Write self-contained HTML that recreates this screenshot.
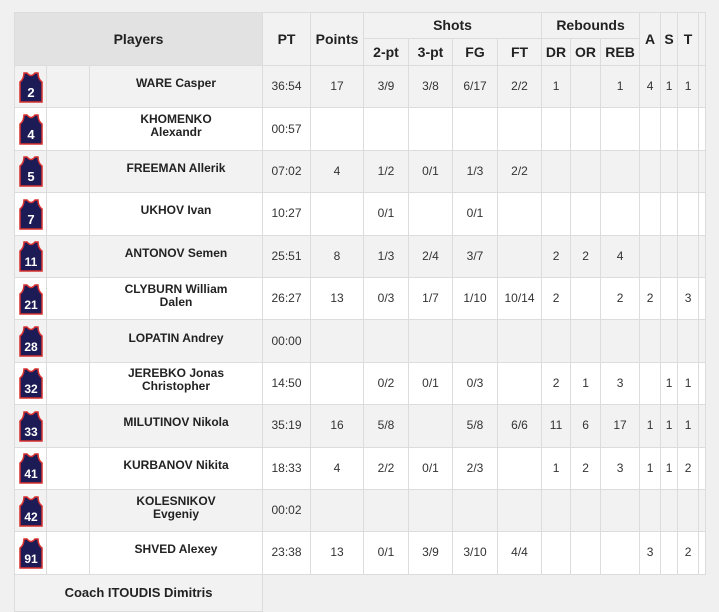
<!DOCTYPE html>
<html><head><meta charset="utf-8"><style>
body{margin:0;background:#f0f0f0;width:719px;height:610px;overflow:hidden;font-family:"Liberation Sans",Arial,sans-serif;}
table{position:absolute;left:14px;top:12px;border-collapse:collapse;table-layout:fixed;width:691px;}
td,th{border:1px solid #dcdcdc;text-align:center;padding:0;color:#333;font-size:12px;line-height:13px;}
th{font-weight:bold;font-size:14px;color:#222;background:#f2f2f2;}
th.pl{background:#e2e2e2;}
tr.h1 th{height:25px}
tr.h2 th{height:26px}
tr.r td{height:41.4px}
tr.g td{background:#f2f2f2}
tr.w td{background:#fff}
td.n{font-weight:bold;font-size:12px;color:#222;}
td.n span{position:relative;top:-3px}
td.j svg{display:block;margin:0 auto}
tr.c td{height:36px;background:#f2f2f2;font-weight:bold;font-size:13px;color:#222}
</style></head><body>
<table>
<colgroup><col style="width:32px"><col style="width:43px"><col style="width:173px"><col style="width:48px"><col style="width:53px"><col style="width:45px"><col style="width:44px"><col style="width:45px"><col style="width:44px"><col style="width:29px"><col style="width:30px"><col style="width:39px"><col style="width:21px"><col style="width:17px"><col style="width:21px"><col style="width:7px"></colgroup>
<tr class="h1"><th class="pl" colspan="3" rowspan="2">Players</th><th rowspan="2">PT</th><th rowspan="2">Points</th><th colspan="4">Shots</th><th colspan="3">Rebounds</th><th rowspan="2">A</th><th rowspan="2">S</th><th rowspan="2">T</th><th rowspan="2"></th></tr>
<tr class="h2"><th>2-pt</th><th>3-pt</th><th>FG</th><th>FT</th><th>DR</th><th>OR</th><th>REB</th></tr>
</table>
<script>
const rows=[
["2","WARE Casper","36:54","17","3/9","3/8","6/17","2/2","1","","1","4","1","1"],
["4","KHOMENKO<br>Alexandr","00:57","","","","","","","","","","",""],
["5","FREEMAN Allerik","07:02","4","1/2","0/1","1/3","2/2","","","","","",""],
["7","UKHOV Ivan","10:27","","0/1","","0/1","","","","","","",""],
["11","ANTONOV Semen","25:51","8","1/3","2/4","3/7","","2","2","4","","",""],
["21","CLYBURN William<br>Dalen","26:27","13","0/3","1/7","1/10","10/14","2","","2","2","","3"],
["28","LOPATIN Andrey","00:00","","","","","","","","","","",""],
["32","JEREBKO Jonas<br>Christopher","14:50","","0/2","0/1","0/3","","2","1","3","","1","1"],
["33","MILUTINOV Nikola","35:19","16","5/8","","5/8","6/6","11","6","17","1","1","1"],
["41","KURBANOV Nikita","18:33","4","2/2","0/1","2/3","","1","2","3","1","1","2"],
["42","KOLESNIKOV<br>Evgeniy","00:02","","","","","","","","","","",""],
["91","SHVED Alexey","23:38","13","0/1","3/9","3/10","4/4","","","","3","","2"]];
let h="";
rows.forEach((r,i)=>{
const fs=r[0].length>1?12:13;
h+=`<tr class="r ${i%2?'w':'g'}"><td class="j"><svg width="24" height="32" viewBox="0 0 24 32"><path d="M1,31 L1,11 Q5,8 5,2 L8,2 Q12,7 16,2 L19,2 Q19,8 23,11 L23,31 Z" fill="#1d1b55" stroke="#d8312f" stroke-width="1.5"/><text x="12" y="26" text-anchor="middle" font-family="Liberation Sans,Arial,sans-serif" font-weight="bold" font-size="${fs}" fill="#fff">${r[0]}</text></svg></td><td></td><td class="n"><span>${r[1]}</span></td>`;
for(let k=2;k<14;k++)h+=`<td>${r[k]}</td>`;
h+=`<td></td></tr>`;});
h+=`<tr class="c"><td colspan="3">Coach ITOUDIS Dimitris</td><td colspan="13" style="background:#f0f0f0;border-right:none;border-bottom:none"></td></tr>`;
document.querySelector("table").insertAdjacentHTML("beforeend",h);
</script>
</body></html>
